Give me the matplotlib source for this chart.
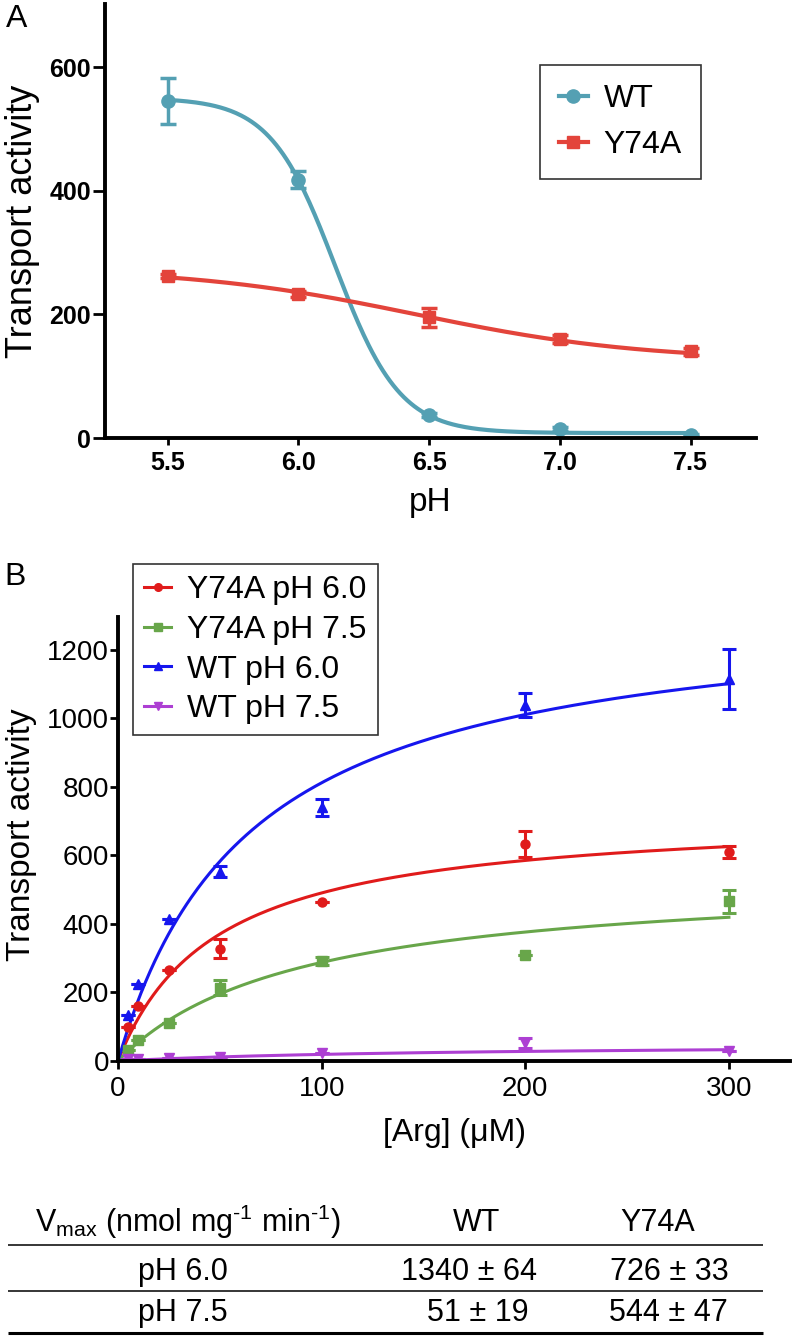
import numpy as np
import matplotlib
matplotlib.use("Agg")
import matplotlib.pyplot as plt
from matplotlib.lines import Line2D

plt.rcParams['font.family'] = ['Liberation Sans', 'DejaVu Sans']
plt.rcParams['mathtext.fontset'] = 'custom'
plt.rcParams['mathtext.rm'] = 'Liberation Sans'
plt.rcParams['mathtext.it'] = 'Liberation Sans:italic'

# panel A: transport vs pH
ph = np.array([5.5, 6.0, 6.5, 7.0, 7.5])
wt_a = np.array([545, 418, 37, 14, 5])
wt_a_err = np.array([37, 14, 3, 3, 2])
y74a_a = np.array([262, 233, 195, 160, 140])
y74a_a_err = np.array([4, 5, 15, 6, 5])

# sigmoid fit parameters (top, bottom, pK, slope)
wt_fit = (550, 8, 6.14, 3.5)
y74a_fit = (275, 125, 6.45, 1.0)

# panel B: transport vs [Arg]
arg = np.array([5, 10, 25, 50, 100, 200, 300])
y74a_60 = np.array([99, 160, 265, 328, 465, 633, 610])
y74a_60_err = np.array([0, 0, 0, 28, 0, 38, 17])
y74a_75 = np.array([33, 61, 111, 214, 293, 310, 466])
y74a_75_err = np.array([0, 0, 0, 22, 12, 0, 33])
wt_60 = np.array([134, 226, 415, 553, 740, 1040, 1115])
wt_60_err = np.array([0, 0, 0, 16, 25, 35, 88])
wt_75 = np.array([5, 5, 9, 13, 24, 52, 29])
wt_75_err = np.array([0, 0, 0, 0, 0, 15, 0])

# Michaelis-Menten fits (Vmax, Km)
mm_fits = {'Y74A pH 6.0': (726, 48), 'Y74A pH 7.5': (544, 89),
           'WT pH 6.0': (1340, 65), 'WT pH 7.5': (51, 164)}

# Vmax table
tab_cols = ['WT', 'Y74A']
tab_rows = ['pH 6.0', 'pH 7.5']
tab_vals = [['1340 ± 64', '726 ± 33'], ['51 ± 19', '544 ± 47']]


def hill(x, top, bottom, pk, n):
    return bottom + (top - bottom) / (1 + 10 ** ((x - pk) * n))


def mm(s, vmax, km):
    return vmax * s / (km + s)


W, H = 793, 1336
fig = plt.figure(figsize=(W / 100, H / 100), dpi=100)

# ---------- A ----------
ax1 = fig.add_axes([105 / W, 1 - 438 / H, 651 / W, 434 / H])
teal = '#54a0b3'
reda = '#e3443b'
xs = np.linspace(5.5, 7.5, 300)
ax1.plot(xs, hill(xs, *wt_fit), color=teal, lw=3)
ax1.plot(xs, hill(xs, *y74a_fit), color=reda, lw=3)
ax1.errorbar(ph, wt_a, yerr=wt_a_err, fmt='o', color=teal, ms=9.5,
             capsize=6, elinewidth=2.5, capthick=2.5)
ax1.errorbar(ph, y74a_a, yerr=y74a_a_err, fmt='s', color=reda, ms=9,
             capsize=6, elinewidth=2.5, capthick=2.5)
ax1.set_xlim(5.26, 7.75)
ax1.set_ylim(0, 702)
ax1.set_xticks(ph)
ax1.set_xticklabels(['5.5', '6.0', '6.5', '7.0', '7.5'],
                    fontsize=18, fontweight='bold')
ax1.set_yticks([0, 200, 400, 600])
ax1.set_yticklabels(['0', '200', '400', '600'],
                    fontsize=18, fontweight='bold')
for sp in ['top', 'right']:
    ax1.spines[sp].set_visible(False)
for sp in ['left', 'bottom']:
    ax1.spines[sp].set_linewidth(2.8)
ax1.tick_params(axis='y', length=9, width=2, pad=1)
ax1.tick_params(axis='x', length=5, width=2, pad=4)
h1 = [Line2D([], [], color=teal, lw=3, marker='o', ms=9.5),
      Line2D([], [], color=reda, lw=3, marker='s', ms=9)]
leg1 = ax1.legend(h1, ['WT', 'Y74A'], loc='upper left',
                  bbox_to_anchor=(0.668, 0.859), fontsize=23, frameon=True,
                  fancybox=False, edgecolor='black', handlelength=0.9,
                  handletextpad=0.5, borderpad=0.6, labelspacing=0.5,
                  borderaxespad=0)
leg1.get_frame().set_linewidth(1.2)
fig.text(23 / W, 1 - 221 / H, 'Transport activity', rotation=90,
         ha='center', va='center', fontsize=26)
fig.text(430 / W, 1 - 511 / H, 'pH', ha='center', va='baseline', fontsize=24)
fig.text(17 / W, 1 - 19 / H, 'A', ha='center', va='center', fontsize=23)

# ---------- B ----------
ax2 = fig.add_axes([118 / W, 1 - 1061 / H, 672 / W, 444 / H])
series = [('Y74A pH 6.0', y74a_60, y74a_60_err, '#e01b1b', 'o', 6.5),
          ('Y74A pH 7.5', y74a_75, y74a_75_err, '#68a64a', 's', 6.5),
          ('WT pH 6.0', wt_60, wt_60_err, '#1616ee', '^', 7),
          ('WT pH 7.5', wt_75, wt_75_err, '#ad3fd3', 'v', 7)]
ss = np.linspace(0, 300, 400)
handles = []
for name, yv, ye, col, mk, msz in series:
    ax2.plot(ss, mm(ss, *mm_fits[name]), color=col, lw=2.2)
    ax2.errorbar(arg, yv, yerr=ye, fmt=mk, color=col, ms=msz,
                 capsize=5, elinewidth=2.2, capthick=2.2)
    handles.append(Line2D([], [], color=col, lw=2.2, marker=mk, ms=msz - 1))
ax2.set_xlim(0, 330)
ax2.set_ylim(0, 1296)
ax2.set_xticks([0, 100, 200, 300])
ax2.set_yticks(np.arange(0, 1201, 200))
for sp in ['top', 'right']:
    ax2.spines[sp].set_visible(False)
for sp in ['left', 'bottom']:
    ax2.spines[sp].set_linewidth(2.8)
ax2.tick_params(axis='both', length=5.5, width=2, labelsize=20)
ax2.tick_params(axis='y', pad=1)
ax2.tick_params(axis='x', pad=5)
leg2 = ax2.legend(handles, [s[0] for s in series], loc='upper left',
                  bbox_to_anchor=(0.022, 1.119), fontsize=23, frameon=True,
                  fancybox=False, edgecolor='black', handlelength=0.85,
                  handletextpad=0.5, borderpad=0.35, labelspacing=0.3,
                  borderaxespad=0)
leg2.get_frame().set_linewidth(1.2)
fig.text(22 / W, 1 - 835 / H, 'Transport activity', rotation=90,
         ha='center', va='center', fontsize=24)
fig.text(454 / W, 1 - 1141 / H, '[Arg] (\u03bcM)', ha='center',
         va='baseline', fontsize=23)
fig.text(15 / W, 1 - 577 / H, 'B', ha='center', va='center', fontsize=23)

# ---------- table ----------
tab = fig.add_axes([0, 0, 1, 150 / H])
tab.set_xlim(0, W)
tab.set_ylim(H, H - 150)
tab.axis('off')
tab.hlines([1245, 1291], 8, 763, color='black', lw=1.1)
tab.hlines(1333, 8, 763, color='black', lw=2.2)
tab.text(35, 1232,
         r'V$_{\rm max}$ (nmol mg$^{\text{-1}}$ min$^{\text{-1}}$)',
         ha='left', va='baseline', fontsize=22)
col_x = [477, 658]
val_x = [[469, 669], [478, 668]]
for cx, cname in zip(col_x, tab_cols):
    tab.text(cx, 1231, cname, ha='center', va='baseline', fontsize=22)
for i, (rname, by) in enumerate(zip(tab_rows, [1280, 1321])):
    tab.text(183, by, rname, ha='center', va='baseline', fontsize=22)
    for j in range(2):
        tab.text(val_x[i][j], by, tab_vals[i][j], ha='center',
                 va='baseline', fontsize=22)

fig.savefig('out.png', dpi=100)
